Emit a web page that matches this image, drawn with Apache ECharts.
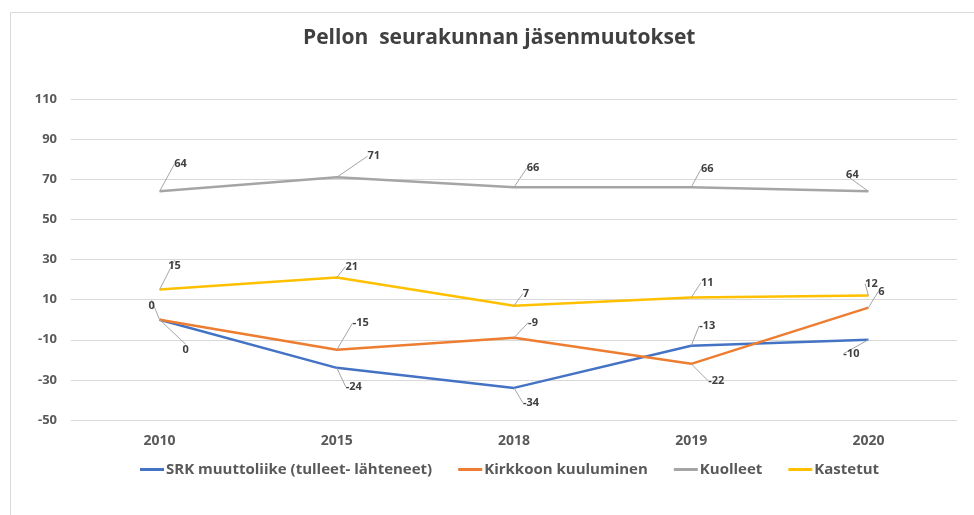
<!DOCTYPE html>
<html>
<head>
<meta charset="utf-8">
<script src="https://cdn.jsdelivr.net/npm/echarts@6/dist/echarts.min.js"></script>
<style>
  html, body { margin: 0; padding: 0; background: #fff; }
  #main { width: 974px; height: 515px; }
</style>
</head>
<body>
<div id="main"></div>
<script>
var years = ['2010', '2015', '2018', '2019', '2020'];
var srk = [0, -24, -34, -13, -10];
var kirkko = [0, -15, -9, -22, 6];
var kuolleet = [64, 71, 66, 66, 64];
var kastetut = [15, 21, 7, 11, 12];

// label shifts (px) for the callouts, per series
var shifts = [
    [[26, 30], [17, 19], [17, 15], [16, -20], [-17, 14]],
    [[-8, -14], [24, -27], [19, -15], [25, 17], [13, -16]],
    [[21, -27], [37, -21], [19, -19], [16, -18], [-16, -16]],
    [[15, -24], [15, -11], [12, -12], [16, -15], [3, -12]]
];

var font = 'Open Sans';
var myChart = echarts.init(document.getElementById('main'));

function makeSeries(name, values, color, idx) {
    return {
        name: name,
        type: 'line',
        data: values,
        symbol: 'circle',
        symbolSize: 0,
        showSymbol: true,
        lineStyle: { color: color, width: 2.5 },
        itemStyle: { color: color },
        label: {
            show: true,
            position: 'inside',
            color: '#404040',
            fontFamily: font,
            fontWeight: 'bold',
            fontSize: 11
        },
        labelLine: {
            show: true,
            lineStyle: { color: '#a6a6a6', width: 1 }
        },
        labelLayout: function (p) {
            var s = shifts[idx][p.dataIndex];
            return { dx: s[0], dy: s[1] };
        }
    };
}

var option = {
    backgroundColor: '#fff',
    animation: false,
    graphic: [{
        type: 'rect',
        shape: { x: 10.5, y: 12.5, width: 990, height: 520 },
        style: { fill: 'none', stroke: '#d9d9d9', lineWidth: 1 }
    }],
    title: {
        text: 'Pellon  seurakunnan jäsenmuutokset',
        left: 298,
        top: 23,
        textStyle: {
            fontFamily: font,
            fontSize: 21,
            fontWeight: 'bold',
            color: '#404040'
        }
    },
    legend: {
        bottom: 33,
        left: 135,
        icon: 'rect',
        itemWidth: 24,
        itemHeight: 3,
        itemGap: 26,
        textStyle: {
            fontFamily: font,
            fontSize: 15,
            fontWeight: 'bold',
            color: '#595959',
            padding: [0, 0, 0, -3]
        },
        data: ['SRK muuttoliike (tulleet- lähteneet)', 'Kirkkoon kuuluminen', 'Kuolleet', 'Kastetut']
    },
    grid: {
        left: 71,
        right: 17,
        top: 99,
        bottom: 95
    },
    xAxis: {
        type: 'category',
        data: years,
        boundaryGap: true,
        axisLine: { show: false },
        axisTick: { show: false },
        axisLabel: {
            margin: 14,
            fontFamily: font,
            fontSize: 14,
            fontWeight: 'bold',
            color: '#595959'
        }
    },
    yAxis: {
        type: 'value',
        min: -50,
        max: 110,
        interval: 20,
        axisLine: { show: false },
        axisTick: { show: false },
        axisLabel: {
            margin: 14,
            fontFamily: font,
            fontSize: 13,
            fontWeight: 'bold',
            color: '#595959'
        },
        splitLine: { lineStyle: { color: '#d9d9d9', width: 1 } }
    },
    series: [
        makeSeries('SRK muuttoliike (tulleet- lähteneet)', srk, '#4472C4', 0),
        makeSeries('Kirkkoon kuuluminen', kirkko, '#ED7D31', 1),
        makeSeries('Kuolleet', kuolleet, '#A5A5A5', 2),
        makeSeries('Kastetut', kastetut, '#FFC000', 3)
    ]
};
myChart.setOption(option);
</script>
</body>
</html>
